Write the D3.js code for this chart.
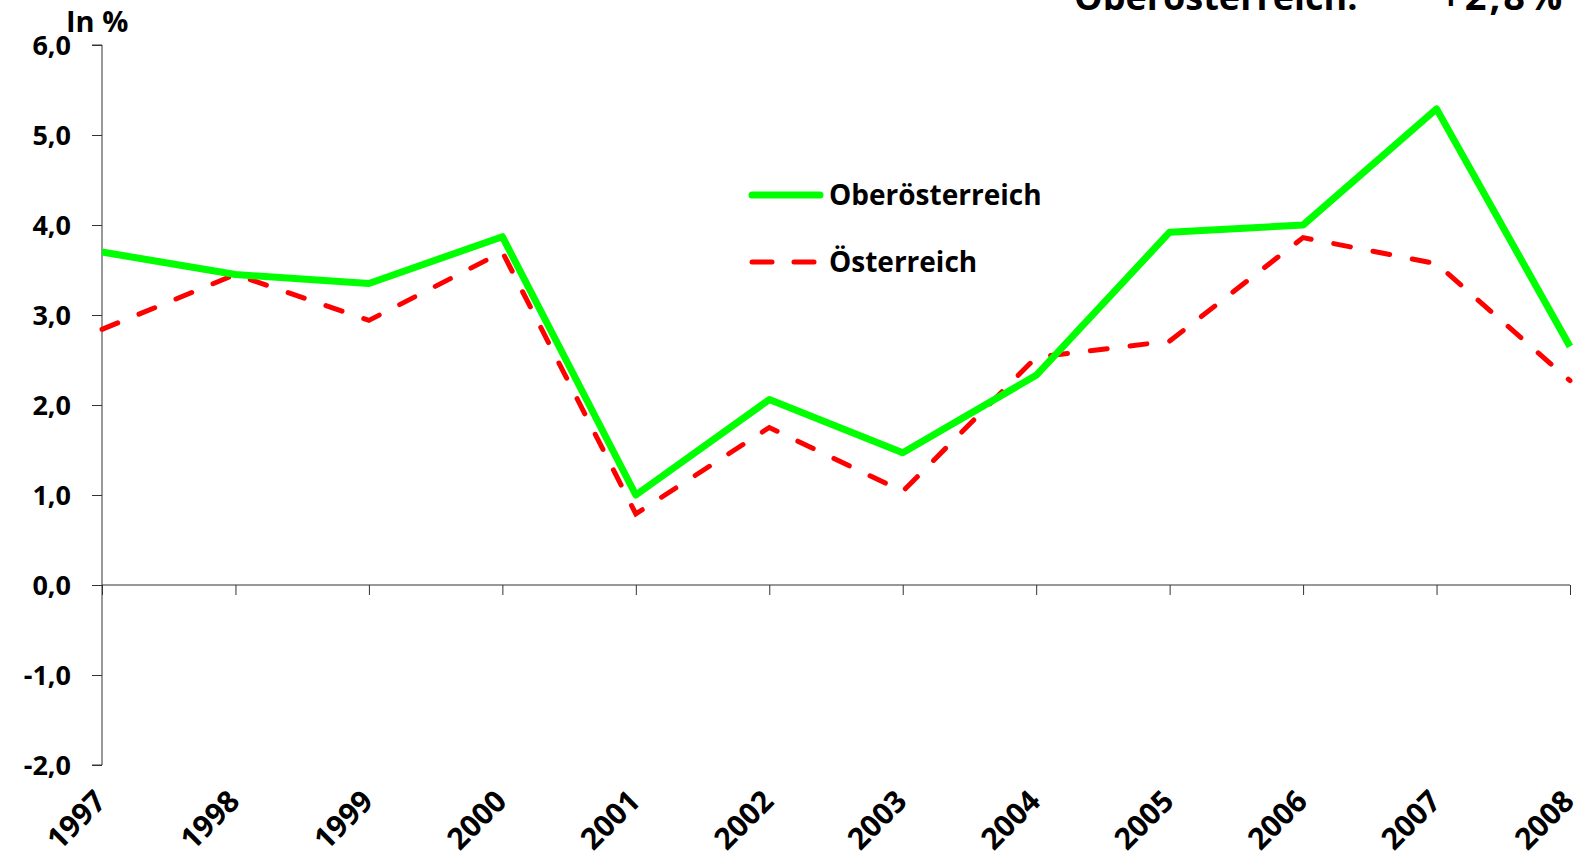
<!DOCTYPE html>
<html>
<head>
<meta charset="utf-8">
<script src="https://cdn.jsdelivr.net/npm/d3@7"></script>
<style>
  body { margin: 0; background: #fff; }
  svg text { font-family: "Open Sans", "DejaVu Sans", sans-serif; font-weight: 700; fill: #000; }
</style>
</head>
<body>
<script>
'use strict';

var years = ["1997", "1998", "1999", "2000", "2001", "2002", "2003", "2004", "2005", "2006", "2007", "2008"];
var ooeValues = [3.7, 3.45, 3.35, 3.87, 1.0, 2.06, 1.47, 2.33, 3.92, 4.0, 5.29, 2.65];
var oeValues = [2.84, 3.45, 2.94, 3.7, 0.79, 1.75, 1.04, 2.53, 2.71, 3.86, 3.57, 2.27];
var yTicks = [-2, -1, 0, 1, 2, 3, 4, 5, 6];
var seriesNames = ["Oberösterreich", "Österreich"];

var width = 1578, height = 860;
var margin = {top: 45, right: 8, bottom: 95, left: 102};

var svg = d3.select("body").append("svg")
    .attr("width", width)
    .attr("height", height);

var xScale = d3.scalePoint()
    .domain(years)
    .range([margin.left, width - margin.right]);

var yScale = d3.scaleLinear()
    .domain([-2, 6])
    .range([height - margin.bottom, margin.top]);

// comma decimals, plain hyphen for minus
var fmt = function(d) { return d.toFixed(1).replace(".", ","); };

// y axis
var yAxis = svg.append("g")
    .attr("transform", "translate(" + margin.left + ",0)")
    .call(d3.axisLeft(yScale).tickValues(yTicks).tickSize(10).tickPadding(21).tickFormat(fmt));
yAxis.select(".domain").attr("stroke", "#333").attr("d", "M-10," + yScale(6) + "H0V" + yScale(-2) + "H-10");
yAxis.selectAll(".tick line").attr("stroke", "#333");
yAxis.selectAll(".tick text").style("font-size", "27px").attr("dy", "0.36em");

// x axis on zero line
var xAxis = svg.append("g")
    .attr("transform", "translate(0," + yScale(0) + ")")
    .call(d3.axisBottom(xScale).tickSize(10).tickFormat(""));
xAxis.select(".domain").attr("stroke", "#333").attr("d", "M" + margin.left + ",0H" + (width - margin.right));
xAxis.selectAll(".tick line").attr("stroke", "#333");

// rotated year labels below the plot
svg.append("g").selectAll("text")
    .data(years)
    .enter()
    .append("text")
    .attr("transform", function(d) { return "translate(" + (xScale(d) + 6) + "," + (yScale(-2) + 38) + ") rotate(-45)"; })
    .attr("text-anchor", "end")
    .style("font-size", "30px")
    .text(function(d) { return d; });

// lines
var line = d3.line()
    .x(function(d, i) { return xScale(years[i]); })
    .y(function(d) { return yScale(d); });

svg.append("path")
    .datum(oeValues)
    .attr("fill", "none")
    .attr("stroke", "#ff0000")
    .attr("stroke-width", 5)
    .attr("stroke-linecap", "round")
    .attr("stroke-dasharray", "17,23")
    .attr("d", line);

svg.append("path")
    .datum(ooeValues)
    .attr("fill", "none")
    .attr("stroke", "#00ff00")
    .attr("stroke-width", 7)
    .attr("stroke-linejoin", "round")
    .attr("d", line);

// legend
var legend = svg.append("g").attr("transform", "translate(752,195)");
legend.append("line").attr("x1", 0).attr("x2", 68).attr("y1", 0).attr("y2", 0)
    .attr("stroke", "#00ff00").attr("stroke-width", 7).attr("stroke-linecap", "round");
legend.append("line").attr("x1", 0).attr("x2", 68).attr("y1", 67).attr("y2", 67)
    .attr("stroke", "#ff0000").attr("stroke-width", 5).attr("stroke-linecap", "round")
    .attr("stroke-dasharray", "20,22");
legend.selectAll("text.lbl")
    .data(seriesNames)
    .enter()
    .append("text")
    .attr("class", "lbl")
    .attr("x", 77)
    .attr("y", function(d, i) { return i * 67 + 10; })
    .style("font-size", "28px")
    .text(function(d) { return d; });

// unit label
svg.append("text").attr("x", 66).attr("y", 32).style("font-size", "29px").text("In %");

// cut-off title at the top
svg.append("text").attr("x", 1074).attr("y", 10).style("font-size", "36px").text("Oberösterreich:");
svg.append("text").attr("x", 1440).attr("y", 10).style("font-size", "38px").style("letter-spacing", "3px").text("+2,8%");
</script>
</body>
</html>
